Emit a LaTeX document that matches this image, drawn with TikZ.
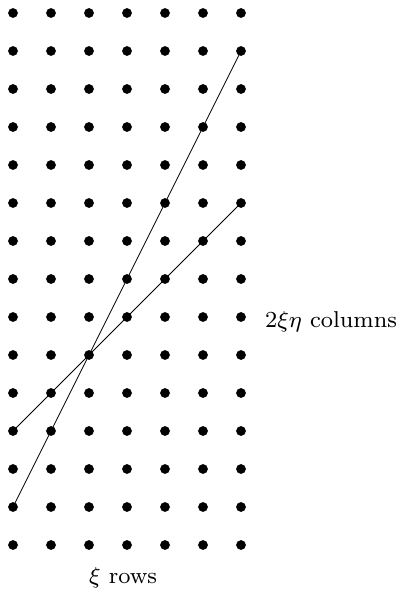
\documentclass[tikz,border=0pt]{standalone}
\begin{document}
\begin{tikzpicture}[x=0.3484pt,y=-0.3484pt,
  dot/.style={circle,fill=black,inner sep=0pt,minimum size=3.4pt},
  lbl/.style={inner sep=0pt,font=\footnotesize}]
\useasboundingbox (0,0) rectangle (396,597);
\foreach \i in {0,...,6}{
  \foreach \j in {0,...,14}{
    \node[dot] (d-\i-\j) at ({13+38*\i},{13+38*\j}) {};
  }
}
\draw[line width=0.3pt] (d-0-13.center) -- (d-6-1.center);
\draw[line width=0.3pt] (d-0-11.center) -- (d-6-5.center);
\node[lbl] (cols) at (331,322) {$2\xi\eta$ columns};
\node[lbl] (rows) at (123,578) {$\xi$ rows};
\end{tikzpicture}
\end{document}
